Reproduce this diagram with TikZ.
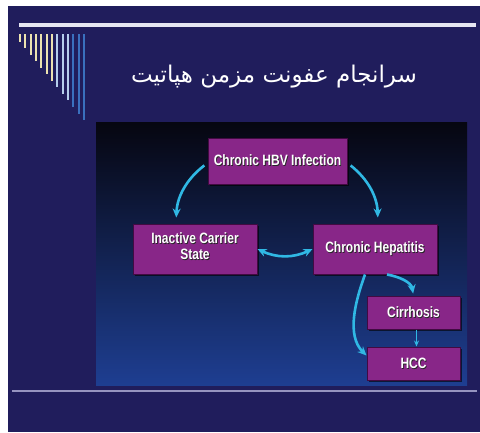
\documentclass[tikz,border=0pt]{standalone}
\usepackage{fontspec}
\setmainfont{Liberation Sans}
\newfontfamily\boxfont[FakeStretch=0.8]{Liberation Sans}
\newfontfamily\arabicfont[Script=Arabic]{DejaVu Sans}
\TeXXeTstate=1
\usetikzlibrary{arrows.meta,shadows}

\definecolor{slide}{RGB}{32,29,92}
\definecolor{boxpurple}{RGB}{136,38,136}
\definecolor{boxedge}{RGB}{66,10,66}
\definecolor{flowcyan}{RGB}{48,184,228}
\definecolor{barcream}{RGB}{236,226,176}
\definecolor{barlight}{RGB}{182,206,236}
\definecolor{barblue}{RGB}{58,112,190}
\definecolor{rulegray}{RGB}{150,148,192}

\newcommand\embossed[1]{\rlap{\kern0.8pt\raisebox{-0.8pt}{\color{black!85}#1}}#1}

\begin{document}
\begin{tikzpicture}[x=1pt, y=1pt,
  box/.style={draw=boxedge, line width=1pt, fill=boxpurple, text=white, inner sep=0pt,
    font=\boxfont\bfseries\fontsize{15}{16}\selectfont,
    drop shadow={shadow xshift=1.5pt, shadow yshift=-1.5pt, opacity=0.6, fill=black}},
  flow/.style={color=flowcyan, line width=2.6pt},
  >={Stealth[length=9pt,width=8pt]}]
  \useasboundingbox (0,0) rectangle (480,-432);
  \fill[white] (0,0) rectangle (480,-432);
  \fill[slide] (8,-6) rectangle (480,-432);

  \draw[color={rgb,255:red,230;green,230;blue,242}, line width=3.5pt] (19,-25) -- (476,-25);
  \foreach \i/\c in {0/barcream,1/barcream,2/barcream,3/barcream,4/barcream,5/barcream,6/barcream,
                     7/barlight,8/barlight,9/barlight,10/barblue,11/barblue,12/barblue}
    \draw[\c, line width=2pt] (20+5.33*\i,-34) -- (20+5.33*\i,-41.5-6.55*\i);
  \draw[rulegray, line width=1.2pt] (12,-391) -- (477,-391);

  \node[text=white, font=\arabicfont\fontsize{23}{25}\selectfont] (title) at (274,-77)
    {\beginR سرانجام عفونت مزمن هپاتیت\endR};

  \shade[top color={rgb,255:red,6;green,6;blue,16}, middle color={rgb,255:red,14;green,24;blue,72},
    bottom color={rgb,255:red,30;green,62;blue,145}] (96,-122) rectangle (467,-385);

  \node[box, minimum width=139pt, minimum height=46pt] (hbv) at (277.5,-161) {\embossed{Chronic HBV Infection}};
  \node[box, minimum width=124pt, minimum height=50pt] (carrier) at (195,-249)
    {\embossed{\begin{tabular}{@{}c@{}}Inactive Carrier\\State\end{tabular}}};
  \node[box, minimum width=124pt, minimum height=50pt] (hepatitis) at (375,-249) {\embossed{Chronic Hepatitis}};
  \node[box, minimum width=93pt, minimum height=33pt] (cirrhosis) at (413.5,-312.5) {\embossed{Cirrhosis}};
  \node[box, minimum width=93pt, minimum height=33pt] (hcc) at (413.5,-363.5) {\embossed{HCC}};

  \path[flow, ->] ([yshift=-2pt]hbv.west) edge[bend right=25, shorten <=4pt, shorten >=6pt] ([xshift=-19pt]carrier.north);
  \path[flow, ->] ([yshift=-2pt]hbv.east) edge[bend left=25, shorten <=4pt, shorten >=6pt] ([xshift=3pt]hepatitis.north);
  \path[flow, <->] (carrier.east) edge[bend right=25] (hepatitis.west);
  \path[flow, ->] ([xshift=12pt]hepatitis.south) edge[out=-10, in=100, shorten >=2pt] (cirrhosis.north);
  \path[flow, ->] ([xshift=-10pt]hepatitis.south) edge[out=250, in=135, looseness=0.9] ([yshift=8pt]hcc.west);
  \path[flow, ->, line width=1.5pt, >={Stealth[length=6pt,width=5pt]}] ([xshift=3pt]cirrhosis.south) edge ([xshift=3pt]hcc.north);
\end{tikzpicture}
\end{document}
